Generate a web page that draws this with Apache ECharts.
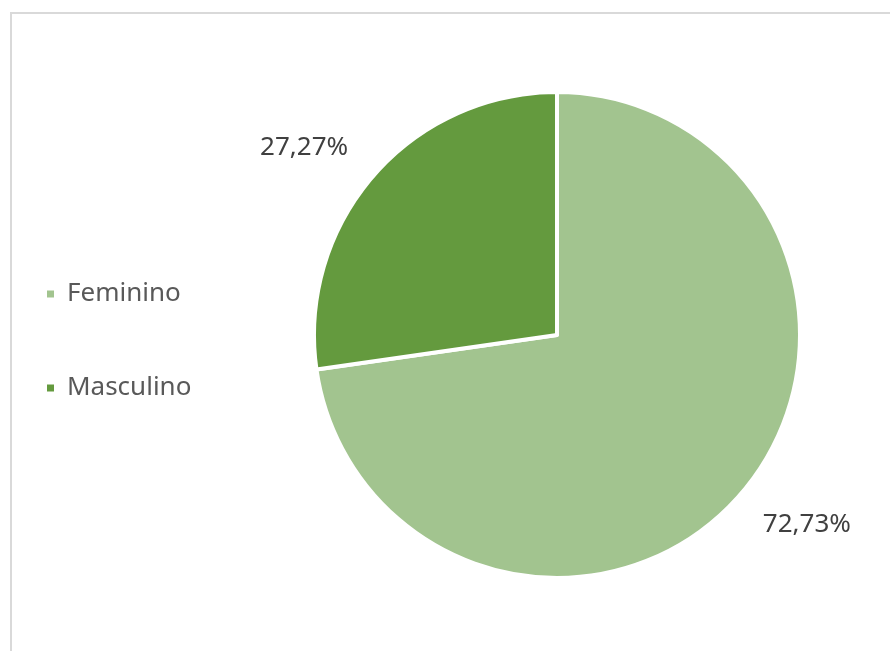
<!DOCTYPE html>
<html>
<head>
<meta charset="utf-8">
<script src="https://cdn.jsdelivr.net/npm/echarts@6/dist/echarts.min.js"></script>
<style>
  html, body { margin: 0; padding: 0; background: #ffffff; }
  #chart { width: 890px; height: 651px; }
</style>
</head>
<body>
<div id="chart"></div>
<script>
// Gender distribution (percent)
const categories = ['Feminino', 'Masculino'];
const values = [72.73, 27.27];
const colors = ['#a2c48f', '#649a3e'];
const labelOffsets = [[-7, 9], [4, -7]];

const chart = echarts.init(document.getElementById('chart'), null, { renderer: 'canvas' });

const fmt = v => v.toFixed(2).replace('.', ',') + '%';

chart.setOption({
  backgroundColor: '#ffffff',
  animation: false,
  textStyle: { fontFamily: 'Noto Sans' },
  graphic: [{
    type: 'rect',
    shape: { x: 11, y: 13, width: 900, height: 700 },
    style: { fill: 'none', stroke: '#d9d9d9', lineWidth: 2 },
    silent: true
  }],
  legend: {
    orient: 'vertical',
    left: 40,
    top: 276,
    itemWidth: 9,
    itemHeight: 9,
    itemGap: 68,
    icon: 'rect',
    data: categories,
    textStyle: { color: '#595959', fontSize: 26, fontFamily: 'Noto Sans', padding: [0, 0, 0, 7] }
  },
  series: [{
    type: 'pie',
    center: [557, 335],
    radius: 243,
    startAngle: 90,
    clockwise: true,
    avoidLabelOverlap: false,
    itemStyle: { borderColor: '#ffffff', borderWidth: 4 },
    label: {
      show: true,
      position: 'outside',
      color: '#404040',
      fontSize: 26,
      fontFamily: 'Noto Sans',
      formatter: p => fmt(p.value)
    },
    labelLine: { show: false, length: 32, length2: 0 },
    data: categories.map((name, i) => ({
      name,
      value: values[i],
      itemStyle: { color: colors[i] },
      label: { offset: labelOffsets[i] }
    }))
  }]
});
</script>
</body>
</html>
